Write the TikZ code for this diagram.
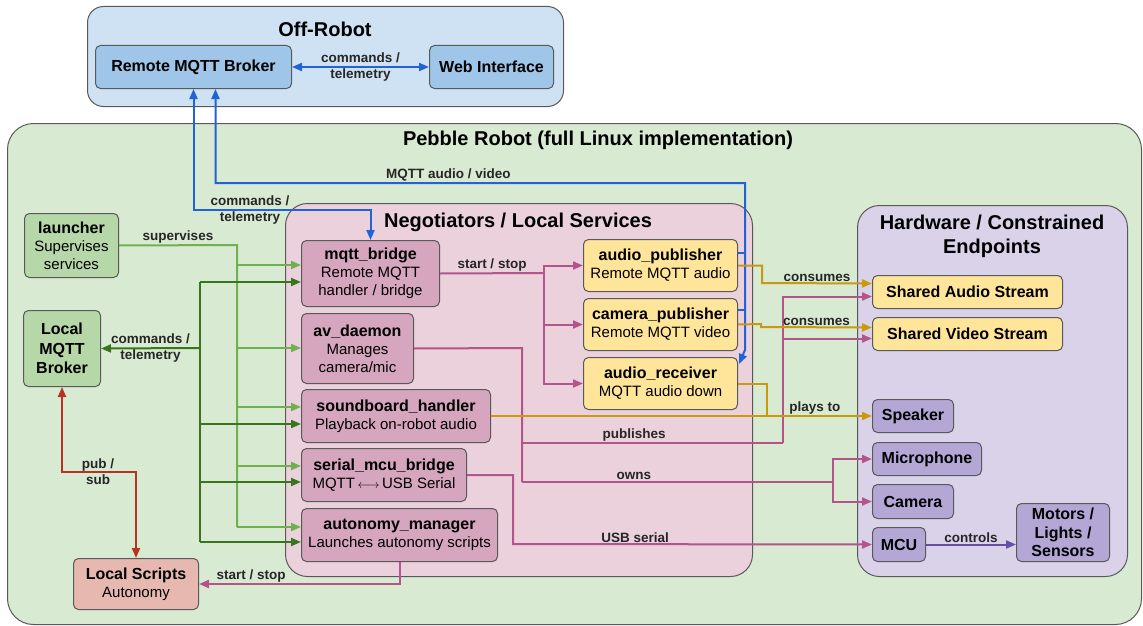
\documentclass[tikz,border=0pt]{standalone}
\usepackage{fontspec}
\setmainfont{Liberation Sans}
\setsansfont{Liberation Sans}
\usetikzlibrary{arrows.meta,calc}
\definecolor{edgegray}{HTML}{595959}
\definecolor{offbg}{HTML}{CFE2F3}
\definecolor{offnode}{HTML}{9FC5E8}
\definecolor{robotbg}{HTML}{D9EAD3}
\definecolor{greennode}{HTML}{B6D7A8}
\definecolor{negbg}{HTML}{EAD1DC}
\definecolor{svcnode}{HTML}{D5A6BD}
\definecolor{yellownode}{HTML}{FFE599}
\definecolor{hwbg}{HTML}{D9D2E9}
\definecolor{hwnode}{HTML}{B4A7D6}
\definecolor{scriptnode}{HTML}{E6B8AF}
\definecolor{blueline}{HTML}{1F63D6}
\definecolor{ltgreen}{HTML}{6FB050}
\definecolor{dkgreen}{HTML}{38761D}
\definecolor{redline}{HTML}{B83220}
\definecolor{magline}{HTML}{B4558A}
\definecolor{goldline}{HTML}{C99A0E}
\definecolor{purpline}{HTML}{674EA7}
\newcommand{\nhead}[1]{{\fontsize{16}{18}\selectfont\bfseries #1}}

\begin{document}
\begin{tikzpicture}[
  x=1pt, y=-1pt,
  font=\fontsize{15}{18}\selectfont,
  group/.style={draw=edgegray, line width=1pt, anchor=north west, inner sep=0pt},
  box/.style={draw=edgegray, line width=1pt, rounded corners=5pt, anchor=north west, align=center, inner sep=1pt},
  hbox/.style={box, font=\fontsize{16}{18.5}\selectfont\bfseries},
  gtitle/.style={font=\fontsize{20}{24}\selectfont\bfseries, align=center},
  lbl/.style={font=\fontsize{13.5}{16}\selectfont\bfseries, text=black!85, align=center, inner sep=1pt},
  con/.style={line width=2pt},
  arr/.style={-{Triangle[length=10pt,width=8pt]}},
  darr/.style={{Triangle[length=10pt,width=8pt]}-{Triangle[length=10pt,width=8pt]}}
]
\useasboundingbox (0,0) rectangle (1143,626);

% Groups
\node[group, fill=offbg, rounded corners=16pt, minimum width=476pt, minimum height=100pt] (offrobot) at (87,6) {};
\node[group, fill=robotbg, rounded corners=26pt, minimum width=1134pt, minimum height=501pt] (pebble) at (7,123) {};
\node[group, fill=negbg, rounded corners=22pt, minimum width=467pt, minimum height=373pt] (negot) at (285,203) {};
\node[group, fill=hwbg, rounded corners=22pt, minimum width=270pt, minimum height=371pt] (hardware) at (857,205) {};

\node[gtitle] (offtitle) at (325,29) {Off-Robot};
\node[gtitle] (pebbletitle) at (598,140) {Pebble Robot (full Linux implementation)};
\node[gtitle] (negtitle) at (518,222) {Negotiators / Local Services};
\node[gtitle] (hwtitle) at (992,236) {Hardware / Constrained\\Endpoints};

% Off-robot
\node[hbox, fill=offnode, minimum width=196pt, minimum height=43pt] (remote) at (95,45) {Remote MQTT Broker};
\node[hbox, fill=offnode, minimum width=124pt, minimum height=43pt] (web) at (429,45) {Web Interface};

% Robot side
\node[box, fill=greennode, minimum width=94pt, minimum height=64pt] (launcher) at (24,213) {\nhead{launcher}\\Supervises\\services};
\node[box, fill=greennode, minimum width=77pt, minimum height=76pt, font=\fontsize{16}{19.5}\selectfont\bfseries] (localbroker) at (23,310) {Local\\MQTT\\Broker};
\node[box, fill=scriptnode, minimum width=125pt, minimum height=51pt] (scripts) at (73,558) {\nhead{Local Scripts}\\Autonomy};

% Local services
\node[box, fill=svcnode, minimum width=138pt, minimum height=66pt] (mqttbridge) at (301,240) {\nhead{mqtt\_bridge}\\Remote MQTT\\handler / bridge};
\node[box, fill=svcnode, minimum width=112pt, minimum height=70pt] (avdaemon) at (301,313) {\nhead{av\_daemon}\\Manages\\camera/mic};
\node[box, fill=svcnode, minimum width=189pt, minimum height=53pt] (soundboard) at (301,389) {\nhead{soundboard\_handler}\\Playback on-robot audio};
\node[box, fill=svcnode, minimum width=165pt, minimum height=53pt] (serial) at (301,448) {\nhead{serial\_mcu\_bridge}\\MQTT\,{\fontsize{12}{12}\selectfont$\longleftrightarrow$}\,USB Serial};
\node[box, fill=svcnode, minimum width=196pt, minimum height=53pt] (autonomy) at (301,508) {\nhead{autonomy\_manager}\\Launches autonomy scripts};
\node[box, fill=yellownode, minimum width=154pt, minimum height=52pt] (audiopub) at (583,239) {\nhead{audio\_publisher}\\Remote MQTT audio};
\node[box, fill=yellownode, minimum width=154pt, minimum height=52pt] (campub) at (583,298) {\nhead{camera\_publisher}\\Remote MQTT video};
\node[box, fill=yellownode, minimum width=154pt, minimum height=52pt] (audiorec) at (583,357) {\nhead{audio\_receiver}\\MQTT audio down};

% Hardware
\node[hbox, fill=yellownode, minimum width=190pt, minimum height=33pt] (sharedaudio) at (872,275) {Shared Audio Stream};
\node[hbox, fill=yellownode, minimum width=190pt, minimum height=33pt] (sharedvideo) at (872,317) {Shared Video Stream};
\node[hbox, fill=hwnode, minimum width=81pt, minimum height=33pt] (speaker) at (872,399) {Speaker};
\node[hbox, fill=hwnode, minimum width=109pt, minimum height=33pt] (microphone) at (872,442) {Microphone};
\node[hbox, fill=hwnode, minimum width=81pt, minimum height=34pt] (camera) at (872,484) {Camera};
\node[hbox, fill=hwnode, minimum width=53pt, minimum height=34pt] (mcu) at (872,527) {MCU};
\node[hbox, fill=hwnode, minimum width=93pt, minimum height=58pt] (motors) at (1016,503) {Motors /\\Lights /\\Sensors};

% Remote links
\draw[con, blueline, darr] (remote) -- node[lbl] {commands /\\telemetry} (web);
\draw[con, blueline, darr] (remote.south) |- (mqttbridge.north |- 0,210) -- (mqttbridge.north);
\node[lbl] at (250,210) {commands /\\telemetry};
\coordinate (avtop) at (745,183);
\draw[con, blueline, darr] ([xshift=22pt]remote.south) |- node[lbl, above, pos=0.72] {MQTT audio / video} (avtop)
  -- (745,350) -- ([xshift=1pt,yshift=-7pt]audiorec.north east);
\draw[con, blueline] ([yshift=13pt]audiopub.east) -- ++(8,0);
\draw[con, blueline] ([yshift=15pt]campub.east) -- ++(8,0);

% Supervision
\coordinate (supv) at (237,245);
\draw[con, ltgreen] (launcher.east) -- node[lbl, above] {supervises} (supv) -- (237,527);
\foreach \n/\y in {mqttbridge/265, avdaemon/348, soundboard/407, serial/466, autonomy/527}
  \draw[con, ltgreen, arr] (237,\y) -- (\n.west |- 0,\y);

% Local MQTT
\coordinate (cmdtop) at (200,282);
\draw[con, dkgreen] (cmdtop) -- (200,542);
\draw[con, dkgreen, arr] (200,348) -- node[lbl] {commands /\\telemetry} (localbroker.east);
\foreach \n/\y in {mqttbridge/282, soundboard/424, serial/482, autonomy/542}
  \draw[con, dkgreen, arr] (200,\y) -- (\n.west |- 0,\y);
\draw[con, redline, darr] (localbroker.south) |- (scripts.north |- 0,472) -- (scripts.north);
\node[lbl] at (98,472) {pub /\\sub};
\draw[con, magline, arr] (autonomy.south) |- node[lbl, above, pos=0.87] {start / stop} (scripts.east);

% Service flows
\coordinate (ssfork) at (544,273);
\draw[con, magline] (mqttbridge.east) -- node[lbl, above] {start / stop} (ssfork);
\foreach \n in {audiopub, campub, audiorec}
  \draw[con, magline, arr] (ssfork) |- (\n.west);
\coordinate (avfork) at (522,348);
\draw[con, magline] (avdaemon.east) -- (avfork) -- (522,482);
\draw[con, magline] (522,443) -- node[lbl, above, pos=0.43] {publishes} (783,443);
\draw[con, magline, arr] (783,443) |- ([yshift=-4.5pt]sharedaudio.west);
\draw[con, magline, arr] (783,443) |- ([yshift=-4.5pt]sharedvideo.west);
\coordinate (ownsfork) at (833,482);
\draw[con, magline] (522,482) -- node[lbl, above, pos=0.36] {owns} (ownsfork);
\draw[con, magline, arr] (ownsfork) |- (microphone.west);
\draw[con, magline, arr] (ownsfork) |- (camera.west);
\draw[con, magline, arr] (serial.east) -| (513,544) -- node[lbl, above, pos=0.34] {USB serial} (mcu.west);
\draw[con, purpline, arr] (mcu.east) -- node[lbl, above] {controls} (mcu.east -| motors.west);

% Streams
\draw[con, goldline, arr] (audiopub.east) -| (762,283) -- node[lbl, above] {consumes} ([yshift=8.5pt]sharedaudio.west);
\draw[con, goldline, arr] (campub.east) -- (761,324) -- (761,327) -- node[lbl, above] {consumes} ([yshift=6.5pt]sharedvideo.west);
\draw[con, goldline] (audiorec.east) -| (767,416);
\draw[con, goldline, arr] (soundboard.east) -- node[lbl, above, pos=0.85] {plays to} (soundboard.east -| speaker.west);
\end{tikzpicture}
\end{document}
